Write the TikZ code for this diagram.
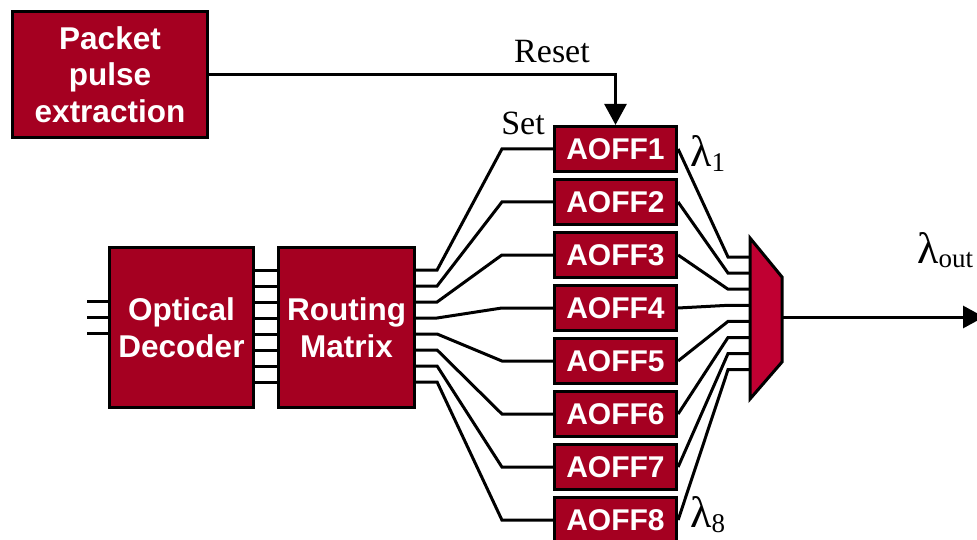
\documentclass[tikz,border=0pt]{standalone}
\usepackage{fontspec}
\setmainfont{Liberation Serif}
\newfontfamily\boxfont{Liberation Sans}
\usetikzlibrary{arrows.meta,calc}
\definecolor{boxred}{RGB}{165,0,33}
\definecolor{muxred}{RGB}{192,0,50}
\begin{document}
\begin{tikzpicture}[x=1pt,y=-1pt,
  blk/.style={draw=black,line width=3.2pt,fill=boxred,text=white,
    font=\boxfont\bfseries\fontsize{31.5}{36.5}\selectfont,align=center,inner sep=0pt},
  aoff/.style={blk,minimum width=122pt,minimum height=45pt,
    font=\boxfont\bfseries\fontsize{30}{30}\selectfont},
  wire/.style={line width=3pt,line join=miter},
  lbl/.style={font=\fontsize{34}{34}\selectfont,inner sep=0pt},
  lam/.style={font=\fontsize{44}{44}\selectfont,inner sep=0pt},
  tip/.style={-{Triangle[length=21pt,width=22pt]}}]
\useasboundingbox (0,0) rectangle (977,540);

% blocks
\node[blk,minimum width=195pt,minimum height=126pt] (pkt) at (110,74.5) {Packet\\pulse\\extraction};
\node[blk,minimum width=144pt,minimum height=160pt] (dec) at (181.5,327.5) {Optical\\Decoder};
\node[blk,minimum width=136pt,minimum height=160pt] (rm) at (346.5,327.5) {Routing\\Matrix};
\foreach \k in {1,...,8}{
  \node[aoff] (a\k) at (615.5,{149+53*(\k-1)}) {AOFF\k};
}

% multiplexer
\draw[line width=3pt,fill=muxred,line join=miter] (750,238) -- (782,277) -- (782,362) -- (750,399) -- cycle;
\coordinate (muxout) at (782,317);
\coordinate (outend) at (984,317);

% decoder inputs
\foreach \y in {301,317,333}{
  \coordinate (in\y) at (87,\y);
  \draw[wire] (in\y) -- (dec.west |- in\y);
}

% decoder to matrix, matrix to AOFF
\foreach \k in {1,...,8}{
  \coordinate (p\k) at (0,{254+16*\k});
  \draw[wire] (dec.east |- p\k) -- (rm.west |- p\k);
  \draw[wire] (rm.east |- p\k) -- ++(21,0) -- ($(a\k.west)+(-51,0)$) -- (a\k.west);
  \coordinate (m\k) at (750,{257+16.1*(\k-1)});
  \draw[wire] (a\k.east) -- ($(m\k)+(-22,0)$) -- (m\k);
}

% reset and output
\draw[wire,tip] (pkt.east) -| (a1.north);
\draw[wire,tip] (muxout) -- (outend);

% labels
\node[lbl,anchor=base] (reset) at (552,63) {Reset};
\node[lbl,anchor=base] (set) at (523,135) {Set};
\node[lam,anchor=base west] (l1) at (690,167) {λ\raisebox{-5pt}{\fontsize{27}{27}\selectfont 1}};
\node[lam,anchor=base west] (l8) at (690,527) {λ\raisebox{-5pt}{\fontsize{27}{27}\selectfont 8}};
\node[lam,anchor=base west] (lout) at (917,263) {λ\raisebox{-4pt}{\fontsize{27}{27}\selectfont out}};
\end{tikzpicture}
\end{document}
